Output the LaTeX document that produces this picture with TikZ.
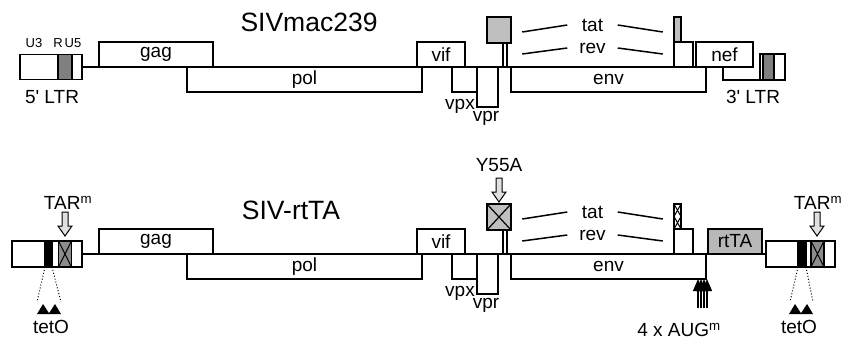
\documentclass[tikz,border=0pt]{standalone}
\usepackage{fontspec}
\setmainfont{Liberation Sans}
\usepackage{tikz}
\usetikzlibrary{positioning, arrows.meta}

\definecolor{tatgray}{gray}{0.75}
\definecolor{rgray}{gray}{0.5}
\definecolor{xgray}{gray}{0.55}
\definecolor{tagray}{gray}{0.72}

\tikzset{
  gene/.style={draw, rectangle, inner sep=0pt, outer sep=0pt, minimum height=25pt, font=\fontsize{19}{19}\selectfont},
  ltrbox/.style={draw, rectangle, inner sep=0pt, outer sep=0pt, minimum height=26pt},
  rbox/.style={ltrbox, fill=rgray},
  tetbox/.style={ltrbox, fill=black},
  tarbox/.style={ltrbox, fill=xgray},
  lbl/.style={inner sep=0pt, font=\fontsize{19}{19}\selectfont},
  small/.style={inner sep=0pt, font=\fontsize{13}{13}\selectfont},
  title/.style={inner sep=0pt, font=\fontsize{26.5}{26.5}\selectfont},
  splicelbl/.style={lbl, minimum width=49pt},
  hollowdown/.pic={\draw[line width=1pt, fill=black!12] (-3,0) -- (3,0) -- (3,14) -- (7,14) -- (0,24) -- (-7,14) -- (-3,14) -- cycle;},
  tetsite/.pic={\fill (-12,10) -- (-6,0) -- (0.5,10) -- cycle (-0.5,10) -- (6,0) -- (12,10) -- cycle;}
}

\begin{document}
\begin{tikzpicture}[x=1pt, y=-1pt, line width=1.5pt, >=Stealth]
  \useasboundingbox (0,0) rectangle (846,340);

  \node[title] (siva) at (309,22) {SIVmac239};
  \node[title] (sivb) at (291,210) {SIV-rtTA};

  % genes both genomes share
  \foreach \r/\dy/\tf in {a/0/tatgray, b/187/white} {
    \node[gene, minimum width=114pt, anchor=south west] (gag\r) at (99,67+\dy) {gag};
    \node[gene, minimum width=235pt, anchor=north west] (pol\r) at (187,67+\dy) {pol};
    \node[gene, minimum width=48pt, anchor=south west] (vif\r) at (417,67+\dy) {vif};
    \node[gene, minimum width=25pt, anchor=north west] (vpx\r) at (452,67+\dy) {};
    \node[gene, minimum width=21pt, minimum height=40pt, anchor=north west] (vpr\r) at (477,67+\dy) {};
    \node[lbl] (vpxl\r) at (460,106+\dy) {vpx};
    \node[lbl] (vprl\r) at (486,118+\dy) {vpr};
    \node[gene, minimum width=24pt, minimum height=26pt, fill=tatgray, anchor=south west] (tat1\r) at (487,43+\dy) {};
    \node[gene, minimum width=4pt, minimum height=24pt, anchor=south west] (rev1\r) at (503,67+\dy) {};
    \node[gene, minimum width=195pt, anchor=north west] (env\r) at (511,67+\dy) {env};
    \node[gene, minimum width=7pt, fill=\tf, anchor=south west] (tat2\r) at (674,42+\dy) {};
    \node[gene, minimum width=19pt, anchor=south west] (rev2\r) at (674,67+\dy) {};
    \node[splicelbl] (tat\r) at (592.5,25+\dy) {tat};
    \node[splicelbl] (rev\r) at (592.5,48+\dy) {rev};
    \draw (tat\r.west) -- ++(-45,7);
    \draw (tat\r.east) -- ++(45,7);
    \draw (rev\r.west) -- ++(-45,6);
    \draw (rev\r.east) -- ++(45,6);
  }

  % SIVmac239
  \node[ltrbox, minimum width=62pt, minimum height=25pt, anchor=west] (ltr5a) at (20,67) {};
  \node[rbox, minimum width=14pt, minimum height=25pt, anchor=west] (ra) at (58,67) {};
  \node[small] (u3a) at (34,43) {U3};
  \node[small] (rla) at (58,43) {R};
  \node[small] (u5a) at (73,43) {U5};
  \node[lbl] (ltr5la) at (52,97) {5\textquotesingle\ LTR};
  \node[gene, minimum width=57pt, anchor=south west] (nefa) at (696,67) {nef};
  \node[ltrbox, minimum width=25pt, anchor=south west] (ltr3a) at (760,80) {};
  \node[rbox, minimum width=11pt, anchor=south west] (r3a) at (763,80) {};
  \draw (ltr3a.south west) -- (723,80) -- (723,67);
  \node[lbl] (ltr3la) at (753,97) {3\textquotesingle\ LTR};
  \draw (ltr5a.east) -- (nefa.south east);

  % SIV-rtTA
  \node[ltrbox, minimum width=70pt, anchor=west] (ltr5b) at (12,254) {};
  \node[tetbox, minimum width=7pt, anchor=west] (tet5b) at (45,254) {};
  \node[tarbox, minimum width=13pt, anchor=west] (tar5b) at (58.5,254) {};
  \draw[line width=1pt] (tar5b.north west) -- (tar5b.south east) (tar5b.north east) -- (tar5b.south west);
  \node[lbl] (tarl5b) at (68,203) {TAR\textsuperscript{m}};
  \pic at (65,212) {hollowdown};
  \draw[dotted, line width=1pt] (tet5b.south west) -- (37,302) (tet5b.south east) -- (61,302);
  \pic at (49,304) {tetsite};
  \node[lbl] (teto5b) at (51,327) {tetO};

  \node[ltrbox, minimum width=69pt, anchor=west] (ltr3b) at (766,254) {};
  \node[tetbox, minimum width=8pt, anchor=west] (tet3b) at (798,254) {};
  \node[tarbox, minimum width=13pt, anchor=west] (tar3b) at (811,254) {};
  \draw[line width=1pt] (tar3b.north west) -- (tar3b.south east) (tar3b.north east) -- (tar3b.south west);
  \node[lbl] (tarl3b) at (818,203) {TAR\textsuperscript{m}};
  \pic at (817,212) {hollowdown};
  \draw[dotted, line width=1pt] (tet3b.south west) -- (790,302) (tet3b.south east) -- (813,302);
  \pic at (801,304) {tetsite};
  \node[lbl] (teto3b) at (799,327) {tetO};

  \node[gene, minimum width=54pt, fill=tagray, anchor=south west] (rttab) at (708,254) {rtTA};
  \draw (ltr5b.east) -- (ltr3b.west);

  % Y55A in tat
  \draw[line width=1.2pt] (tat1b.north west) -- (tat1b.south east) (tat1b.north east) -- (tat1b.south west);
  \node[lbl] (y55a) at (499,165) {Y55A};
  \pic at (499,178) {hollowdown};
  \draw[line width=1pt] (tat2b.north west) -- (tat2b.east) -- (tat2b.south west)
    (tat2b.north east) -- (tat2b.west) -- (tat2b.south east);

  % AUG knock-outs
  \foreach \i in {0,...,3}
    \draw[line width=1.2pt, -{Triangle[length=12pt, width=10pt]}] (698+3*\i,308) -- (698+3*\i,279);
  \node[lbl] (augb) at (679,330) {4 x AUG\textsuperscript{m}};
\end{tikzpicture}
\end{document}
